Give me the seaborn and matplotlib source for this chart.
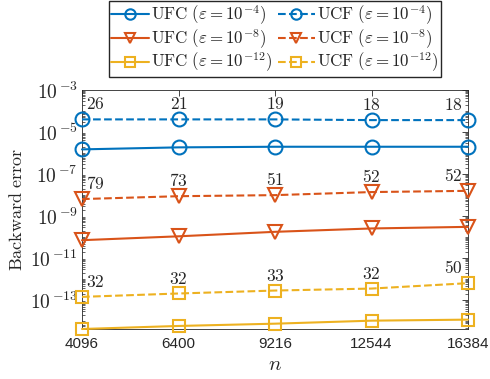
import numpy as np
import matplotlib
matplotlib.use("Agg")
import matplotlib.pyplot as plt
import matplotlib.ticker as mticker
import seaborn as sns

# ---- data ----
n_labels = ["4096", "6400", "9216", "12544", "16384"]
ufc_4 = [1.5e-6, 1.87e-6, 2.0e-6, 2.0e-6, 2.0e-6]
ucf_4 = [4.0e-5, 4.0e-5, 4.0e-5, 3.7e-5, 3.7e-5]
ufc_8 = [7.2e-11, 1.1e-10, 1.8e-10, 2.6e-10, 3.1e-10]
ucf_8 = [6.5e-9, 8.9e-9, 1.0e-8, 1.4e-8, 1.6e-8]
ufc_12 = [4.3e-15, 6.0e-15, 7.7e-15, 1.07e-14, 1.2e-14]
ucf_12 = [1.45e-13, 2.1e-13, 2.9e-13, 3.6e-13, 6.5e-13]
it_4 = [26, 21, 19, 18, 18]
it_8 = [79, 73, 51, 52, 52]
it_12 = [32, 32, 33, 32, 50]

sns.set_theme(style="white")
plt.rcParams["font.family"] = ["Liberation Sans", "DejaVu Sans"]
plt.rcParams["mathtext.fontset"] = "cm"
plt.rcParams["xtick.direction"] = "in"
plt.rcParams["ytick.direction"] = "in"

blue, red, yellow = "#0072BD", "#D95319", "#EDB120"
x = np.arange(len(n_labels))

fig = plt.figure(figsize=(4.9, 3.79), dpi=100)
ax = fig.add_axes([82 / 490, 1 - 329 / 379, 386 / 490, 239 / 379])

series = [
    (ufc_4, blue, "o", "-", r"$\mathrm{UFC}\ (\varepsilon=10^{-4})$"),
    (ufc_8, red, "v", "-", r"$\mathrm{UFC}\ (\varepsilon=10^{-8})$"),
    (ufc_12, yellow, "s", "-", r"$\mathrm{UFC}\ (\varepsilon=10^{-12})$"),
    (ucf_4, blue, "o", "--", r"$\mathrm{UCF}\ (\varepsilon=10^{-4})$"),
    (ucf_8, red, "v", "--", r"$\mathrm{UCF}\ (\varepsilon=10^{-8})$"),
    (ucf_12, yellow, "s", "--", r"$\mathrm{UCF}\ (\varepsilon=10^{-12})$"),
]
for vals, c, m, ls, lab in series:
    ms = 9 if m == "s" else 10
    sns.lineplot(x=x, y=vals, ax=ax, color=c, marker=m, linestyle=ls,
                 linewidth=1.5, markersize=ms, markerfacecolor="none",
                 markeredgecolor=c, markeredgewidth=1.5, label=lab,
                 clip_on=False, zorder=3)

# iteration counts above the UCF markers
for vals, its in [(ucf_4, it_4), (ucf_8, it_8), (ucf_12, it_12)]:
    for i, (v, k) in enumerate(zip(vals, its)):
        if i == 0:
            ha, dx = "left", 3
        elif i == len(vals) - 1:
            ha, dx = "right", -4
        else:
            ha, dx = "center", 0
        ax.annotate(f"${k}$", (x[i], v), xytext=(dx, 5),
                    textcoords="offset points", ha=ha, va="bottom",
                    fontsize=12.5)

ax.set_yscale("log")
ax.set_ylim(ufc_12[0], 1e-3)
ax.set_xlim(x[0], x[-1])
ax.set_xticks(x)
ax.set_xticklabels(n_labels)
ax.yaxis.set_major_locator(mticker.FixedLocator([10.0 ** e for e in range(-13, -2, 2)]))
ax.yaxis.set_minor_locator(mticker.LogLocator(base=10, subs=np.arange(1, 10), numticks=50))
ax.yaxis.set_minor_formatter(mticker.NullFormatter())
ax.yaxis.set_major_formatter(mticker.FuncFormatter(
    lambda v, p: r"$\mathsf{10}^{\,\mathsf{%d}}$" % round(np.log10(v))))
ax.tick_params(axis="x", which="major", labelsize=11, pad=6)
ax.tick_params(axis="y", which="major", labelsize=14, pad=3)
ax.tick_params(axis="both", which="major", length=4, width=0.6,
               top=True, right=True, color="#262626")
ax.tick_params(axis="y", which="minor", length=2, width=0.5, right=True, left=True)
for s in ax.spines.values():
    s.set_color("#262626")
    s.set_linewidth(0.6)

ax.set_xlabel(r"$n$", fontsize=15, labelpad=3)
ax.set_ylabel(r"$\mathrm{Backward\ error}$", fontsize=13, labelpad=3)

ax.legend(ncol=2, loc="upper center", bbox_to_anchor=(0.5, 1 + 89 / 239),
          fontsize=12.2, frameon=True, fancybox=False, edgecolor="#262626",
          framealpha=1, handlelength=2.2, handletextpad=0.15, columnspacing=0.3,
          borderpad=0.15, labelspacing=0.0, borderaxespad=0, markerscale=0.75)

fig.savefig("out.png", dpi=100)
